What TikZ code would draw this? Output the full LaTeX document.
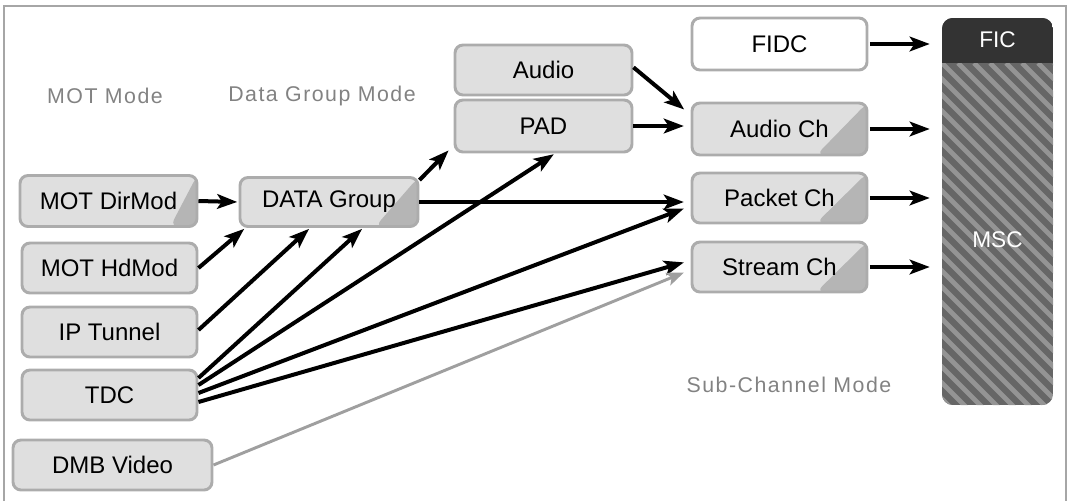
\documentclass[tikz,border=0pt]{standalone}
\usepackage{fontspec}
\setmainfont{Liberation Sans}
\newfontfamily\labfont[LetterSpace=7]{Liberation Sans}
\usetikzlibrary{arrows.meta,calc}
\begin{document}
\begin{tikzpicture}[x=0.75pt,y=-0.75pt,
  box/.style={draw=gray!65, line width=2.2pt, fill=gray!25, rounded corners=6pt,
    minimum height=37.5pt, inner sep=0pt, font=\fontsize{18}{21}\selectfont},
  corner/.style={path picture={\fill[gray!58] ([xshift=-#1]path picture bounding box.south east)
      -- (path picture bounding box.south east) -- (path picture bounding box.north east) -- cycle;}},
  modelabel/.style={text=gray!60!black!70, font=\labfont\fontsize{16}{19}\selectfont, inner sep=0pt},
  ar/.style={-{Stealth[length=15pt,width=11pt,inset=3.5pt]}, line width=3pt, shorten >=1pt},
  grayar/.style={-{Stealth[length=13pt,width=10pt,inset=3pt]}, line width=2.2pt, draw=gray!75, shorten >=1pt}
]
\useasboundingbox (0,0) rectangle (1070,501);
% frame
\draw[gray!70, line width=1.2pt] (4,501) -- (4,6) -- (1066,6) -- (1066,501);

% labels
\node[modelabel] (lmot) at (105,96) {MOT Mode};
\node[modelabel] (ldg) at (322,96) {Data Group Mode};
\node[modelabel] (lsub) at (789,385) {Sub-Channel Mode};

% left column
\node[box, corner=20pt, minimum width=132.75pt, minimum height=38.25pt] (dirmod) at (108.5,201) {MOT DirMod};
\node[box, minimum width=131.25pt] (hdmod) at (109.5,268) {MOT HdMod};
\node[box, minimum width=131.25pt] (iptun) at (109.5,332) {IP Tunnel};
\node[box, minimum width=131.25pt] (tdc) at (109.5,395) {TDC};
\node[box, minimum width=149.25pt] (dmb) at (112.5,465) {DMB Video};

% middle
\node[box, corner=32pt, minimum width=133.5pt, minimum height=36.75pt] (dgroup) at (329,202) {DATA Group};
\node[box, minimum width=132.75pt] (audio) at (543.5,70) {Audio};
\node[box, minimum width=132.75pt, minimum height=39pt] (pad) at (543.5,126) {PAD};

% sub-channels
\node[box, fill=white, minimum width=131.25pt, minimum height=39pt] (fidc) at (779.5,44) {FIDC};
\node[box, corner=38pt, minimum width=131.25pt, minimum height=39pt] (audioch) at (779.5,129) {Audio Ch};
\node[box, corner=38pt, minimum width=131.25pt] (packetch) at (779.5,198) {Packet Ch};
\node[box, corner=38pt, minimum width=131.25pt] (streamch) at (779.5,267) {Stream Ch};

% MSC / FIC block
\begin{scope}
\clip[rounded corners=8pt] (942,18) rectangle (1053,405);
\fill[black!60] (942,18) rectangle (1053,405);
\foreach \i in {-352,-336,...,128} \draw[black!42, line width=3.5pt] (942+\i,63) -- ++(420,420);
\fill[black!80] (942,18) rectangle (1053,63);
\end{scope}
\node[draw=none, minimum width=83.25pt, minimum height=290.25pt, inner sep=0pt] (msc) at (997.5,211.5) {};
\node[text=white, font=\fontsize{17}{20}\selectfont] (fic) at (997.5,40) {FIC};
\node[text=white, font=\fontsize{17}{20}\selectfont] (msctext) at (997.5,240) {MSC};

% arrows
\draw[ar] (dirmod.east) -- (dgroup.west);
\draw[ar] (hdmod.east) -- ([xshift=5pt]dgroup.south west);
\draw[ar] ([yshift=1.5pt]iptun.east) -- ([xshift=-14.25pt]dgroup.south);
\draw[ar] ([yshift=12.75pt]tdc.east) -- ([xshift=25.5pt]dgroup.south);
\draw[ar] ([yshift=7.5pt]tdc.east) -- ([xshift=8.6pt]pad.south);
\draw[ar] ([yshift=1.5pt]tdc.east) -- ([xshift=-4pt,yshift=-7.5pt]packetch.west);
\draw[ar] ([yshift=-5.25pt]tdc.east) -- ([xshift=-4pt,yshift=3.75pt]streamch.west);
\draw[grayar] (dmb.east) -- ([xshift=-4pt,yshift=-3.75pt]streamch.west);
\draw[ar] ([yshift=-3pt]dgroup.north east) -- ([xshift=-3pt,yshift=3pt]pad.south west);
\draw[ar] (dgroup.east) -- ([xshift=-4pt]dgroup.east -| packetch.west);
\draw[ar] ([yshift=2pt]audio.east) -- ([xshift=-4pt,yshift=14pt]audioch.west);
\draw[ar] (pad.east) -- ([xshift=-4pt]pad.east -| audioch.west);
\draw[ar, shorten <=1pt] (fidc.east) -- ([xshift=-8pt]fidc.east -| msc.west);
\draw[ar, shorten <=1pt] (audioch.east) -- ([xshift=-8pt]audioch.east -| msc.west);
\draw[ar, shorten <=1pt] (packetch.east) -- ([xshift=-8pt]packetch.east -| msc.west);
\draw[ar, shorten <=1pt] (streamch.east) -- ([xshift=-8pt]streamch.east -| msc.west);
\end{tikzpicture}
\end{document}
